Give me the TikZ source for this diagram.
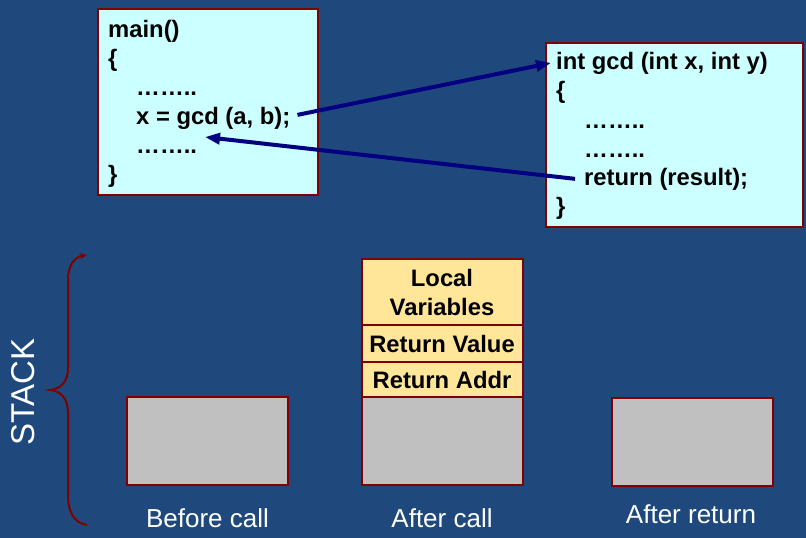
\documentclass[tikz,border=0pt]{standalone}
\usepackage{fontspec}
\setmainfont{Liberation Sans}
\usetikzlibrary{arrows.meta}
\definecolor{bgblue}{RGB}{31,73,125}
\definecolor{codecyan}{RGB}{204,255,255}
\definecolor{darkred}{RGB}{128,0,0}
\definecolor{stackyellow}{RGB}{255,230,153}
\definecolor{stackgrey}{RGB}{192,192,192}
\definecolor{navyarrow}{RGB}{0,0,128}
\tikzset{
  codebox/.style={draw=darkred, fill=codecyan, line width=2pt},
  codeline/.style={anchor=base west, inner sep=0pt, font=\fontsize{23.8}{29}\selectfont\bfseries, text=black},
  stackbox/.style={draw=darkred, line width=2pt, fill=stackgrey, minimum width=161pt, minimum height=88pt, inner sep=0pt},
  framebox/.style={draw=darkred, line width=2pt, fill=stackyellow, minimum width=161pt, inner sep=0pt, align=center, font=\fontsize{23.8}{29}\selectfont\bfseries, text=black},
  caption/.style={anchor=base, inner sep=0pt, font=\fontsize{26}{30}\selectfont, text=white},
  callarrow/.style={draw=navyarrow, line width=4pt, -{Triangle[length=15pt,width=11pt]}},
}
\begin{document}
\begin{tikzpicture}[x=1pt,y=-1pt]
\fill[bgblue] (0,0) rectangle (806,538);
\useasboundingbox (0,0) rectangle (806,538);
% main box
\draw[codebox] (98,9) rectangle (318,195);
\node[codeline] (m1) at (108,37) {main()};
\node[codeline] (m2) at (108,66) {\{};
\node[codeline] (m3) at (136,95) {……..};
\node[codeline] (call) at (136,124) {x = gcd (a, b);};
\node[codeline] (m5) at (136,153) {……..};
\node[codeline] (m6) at (108,182) {\}};
% gcd box
\draw[codebox] (546,43) rectangle (803,227);
\node[codeline] (hdr) at (556,69) {int gcd (int x, int y)};
\node[codeline] (g2) at (556,98) {\{};
\node[codeline] (g3) at (584,128) {……..};
\node[codeline] (g4) at (584,157) {……..};
\node[codeline] (ret) at (584,185) {return (result);};
\node[codeline] (g6) at (556,214) {\}};
% arrows
\coordinate (retend) at (205,137);
\draw[callarrow] ([xshift=7pt,yshift=3pt]call.east) -- ([xshift=-5pt]hdr.west);
\draw[callarrow] ([xshift=-9pt]ret.west) -- (retend);
% brace
\draw[darkred, line width=2pt, -{Stealth[length=7pt,width=6pt]}]
  (87,525) .. controls (74,523) and (68,512) .. (68,495) -- (68,412)
  .. controls (68,399) and (61,391) .. (50,390)
  .. controls (61,389) and (68,381) .. (68,368) -- (68,280)
  .. controls (68,266) and (74,257) .. (87,255);
\node[rotate=90, inner sep=0pt, font=\fontsize{33}{36}\selectfont, text=white] (stack) at (23,392) {STACK};
% stacks
\node[stackbox] (before) at (207.5,441) {};
\node[stackbox] (aftercall) at (442,441) {};
\node[framebox, minimum height=35pt] (retaddr) at (442,379.5) {Return Addr};
\node[framebox, minimum height=37pt] (retval) at (442,343.5) {Return Value};
\node[framebox, minimum height=66pt] (locals) at (442,292) {Local\\Variables};
\node[stackbox] (afterret) at (692,441.5) {};
% captions
\node[caption] (c1) at (207.5,527) {Before call};
\node[caption] (c2) at (442,527) {After call};
\node[caption] (c3) at (691,523) {After return};
\end{tikzpicture}
\end{document}
